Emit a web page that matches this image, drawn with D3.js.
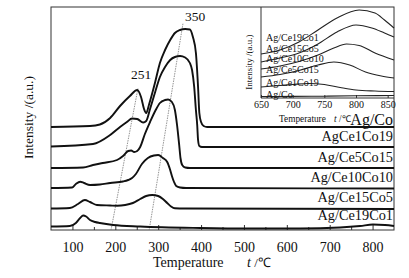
<!DOCTYPE html>
<html><head><meta charset="utf-8">
<script src="https://cdn.jsdelivr.net/npm/d3@7"></script>
<style>
body{margin:0;background:#fff;}
svg{display:block;}
svg text{font-family:"Liberation Serif","Times New Roman",serif !important;fill:#111;}
</style>
</head><body>
<svg id="c" width="409" height="278"></svg>
<script>
// ---------- data ----------
const seriesNames = ["Ag/Co","AgCe1Co19","Ag/Ce5Co15","Ag/Ce10Co10","Ag/Ce15Co5","Ag/Ce19Co1"];
const seriesOffsets = [103, 83, 62, 42, 21.5, 0];
const agCo = [[50,0],[141,1],[164,2.5],[188,9],[211,21],[234,31],[251,37],[260,30],[267,18],[272,14],[279,23],[293,45],[304,64],[316,77],[328,87],[339,94],[351,97],[363,98],[374,97.5],[381,90],[388,74],[393,40],[396,14],[400,5],[406,1],[414,0],[850,0]];
const ce1co19 = [[50,0.5],[148,3],[188,12],[211,20],[227,25],[239,28.5],[251,28],[265,24.5],[272,26],[281,38],[293,55],[304,70],[316,80],[328,87],[339,90],[351,91],[363,89.5],[374,84],[379,77],[384,60],[388,37],[391,22],[393,7],[396,1],[402,0],[850,0]];
const ce5co15 = [[50,0],[125,0.5],[148,3],[171,5],[204,8],[218,12],[230,17],[237,17.5],[244,16],[251,17],[258,21],[269,34],[281,46],[293,57],[304,65],[316,68],[323,68.5],[332,66],[339,58],[344,43],[349,23],[352,10],[356,3],[363,0.5],[374,0],[850,0]];
const ce10co10 = [[50,0],[99,0.5],[108,4],[118,6.3],[127,5],[141,3],[164,3.5],[188,5],[218,6.5],[230,8],[239,10],[248,14],[262,24],[276,30],[290,32.5],[300,33],[311,30],[321,26],[328,18],[332,12],[337,6],[342,2],[351,0.5],[365,0],[850,-0.5]];
const ce15co5 = [[50,0],[94,0.5],[113,4.5],[129,8.5],[141,6.5],[157,3.5],[188,3],[204,2.8],[223,3.5],[241,5.5],[258,9.5],[272,12.5],[286,13.5],[300,12.5],[311,9.5],[321,5.5],[330,2],[339,0.2],[363,0],[850,-0.5]];
const ce19co1 = [[50,3.5],[94,4],[108,7],[118,12],[125,14.5],[132,13.5],[141,10],[153,8],[164,7],[195,5],[258,3.5],[398,2],[514,1.5],[631,1.5],[724,2.5],[771,4],[801,5.5],[829,5],[850,4]];
const mainSeries = [agCo, ce1co19, ce5co15, ce10co10, ce15co5, ce19co1];

const xMajorTicks = [100,200,300,400,500,600,700,800];
const xMinorTicks = [150,250,350,450,550,650,750];
const guide251 = [[190,0],[253,142]];
const guide350 = [[279,0],[358,207]];
const peakLabels = ["251","350"];

const insetNames = ["Ag/Ce19Co1","Ag/Ce15Co5","Ag/Ce10Co10","Ag/Ce5Co15","Ag/Ce1Co19","Ag/Co"];
const insetCe19 = [[650,44],[680,48],[710,56],[740,68],[770,80],[805,88],[830,85],[845,78],[860,70]];
const insetCe15 = [[650,36],[680,40],[710,45],[740,54],[770,66],[800,73],[825,70],[845,65],[860,61]];
const insetCe10 = [[650,29],[680,32],[710,36.5],[740,43],[765,50],[785,54],[805,52.5],[830,45],[860,38]];
const insetCe5  = [[650,21],[680,23.5],[710,27.5],[740,33],[765,36],[790,33],[815,26],[840,22],[860,20]];
const insetCe1  = [[650,11],[680,12.5],[700,13.5],[725,14.5],[750,13.5],[775,10.5],[800,8],[830,7],[860,6.5]];
const insetAgCo = [[650,1.5],[700,1.6],[750,1.8],[800,2.2],[860,2.5]];
const insetSeries = [insetCe19, insetCe15, insetCe10, insetCe5, insetCe1, insetAgCo];
const insetTicks = [650,700,750,800,850];

// ---------- layout ----------
const svg = d3.select("#c");
const L = 51, R = 394, T = 7, B = 230;
const x = d3.scaleLinear().domain([50, 850]).range([L, R]);
const y = d3.scaleLinear().domain([0, 223]).range([B, T]);
const ink = "#111";
const serif = '"Liberation Serif","Times New Roman",serif';

// frame
svg.append("rect").attr("x", L).attr("y", T).attr("width", R - L).attr("height", B - T)
  .attr("fill", "none").attr("stroke", "#333").attr("stroke-width", 1);

// x axis ticks (inward)
svg.append("g").attr("transform", `translate(0,${B})`)
  .call(d3.axisBottom(x).tickValues(xMajorTicks).tickSize(-5).tickPadding(12).tickFormat(d3.format("d")))
  .call(g => g.attr("font-family", null).attr("font-size", null))
  .call(g => g.select(".domain").remove())
  .call(g => g.selectAll("line").attr("stroke", "#333"))
  .call(g => g.selectAll("text").style("font-size", "14px").style("font-family", serif).attr("fill", ink));
svg.append("g").attr("transform", `translate(0,${B})`)
  .call(d3.axisBottom(x).tickValues(xMinorTicks).tickSize(-3).tickFormat(""))
  .call(g => g.select(".domain").remove())
  .call(g => g.selectAll("line").attr("stroke", "#333"));

// axis titles
const xt = svg.append("text").attr("y", 266.5).attr("font-size", "14px");
xt.append("tspan").attr("x", 153).text("Temperature");
xt.append("tspan").attr("x", 247).attr("font-style", "italic").text("t");
xt.append("tspan").attr("font-size", "13px").text(" /\u2103");
svg.append("text").attr("transform", "translate(33,117.5) rotate(-90)")
  .attr("text-anchor", "middle").attr("font-size", "13.5px").text("Intensity /(a.u.)");

// guide lines
const gline = d3.line().x(d => x(d[0])).y(d => y(d[1]));
[guide251, guide350].forEach(gd => {
  svg.append("path").attr("d", gline(gd)).attr("fill", "none")
    .attr("stroke", "#777").attr("stroke-width", 0.8).attr("stroke-dasharray", "1.5,1");
});
svg.append("text").attr("x", x(guide251[1][0]) + 3).attr("y", y(guide251[1][1]) - 9.5)
  .attr("text-anchor", "middle").attr("font-size", "13.5px").text(peakLabels[0]);
svg.append("text").attr("x", x(guide350[1][0]) + 12).attr("y", y(guide350[1][1]) - 2)
  .attr("text-anchor", "middle").attr("font-size", "13.5px").text(peakLabels[1]);

// main curves
const line = d3.line().curve(d3.curveMonotoneX);
mainSeries.forEach((s, i) => {
  const off = seriesOffsets[i];
  svg.append("path")
    .attr("d", line(s.map(d => [x(d[0]), y(d[1] + off)])))
    .attr("fill", "none").attr("stroke", ink).attr("stroke-width", 1.9)
    .attr("stroke-linejoin", "round");
});

// series labels
const labelDy = [-2, -6.5, -6.3, -5.7, -6.2, -10];
const labelSize = [16, 14.3, 14.3, 14.3, 14.3, 14.3];
seriesNames.forEach((n, i) => {
  svg.append("text").attr("x", 393).attr("y", y(seriesOffsets[i]) + labelDy[i])
    .attr("text-anchor", "end").attr("font-size", labelSize[i] + "px").text(n);
});

// ---------- inset ----------
const iL = 261, iR = 394, iT = 7, iB = 98;
const xi = d3.scaleLinear().domain([650, 860]).range([iL, iR]);
const yi = d3.scaleLinear().domain([0, 91]).range([iB, iT]);
svg.append("line").attr("x1", iL).attr("x2", iL).attr("y1", iT).attr("y2", iB).attr("stroke", "#333");
svg.append("line").attr("x1", iL).attr("x2", iR).attr("y1", iB).attr("y2", iB).attr("stroke", "#333");
svg.append("g").attr("transform", `translate(0,${iB})`)
  .call(d3.axisBottom(xi).tickValues(insetTicks).tickSize(-3).tickPadding(3))
  .call(g => g.attr("font-family", null).attr("font-size", null))
  .call(g => g.select(".domain").remove())
  .call(g => g.selectAll("line").attr("stroke", "#333"))
  .call(g => g.selectAll("text").style("font-size", "10px").style("font-family", serif).attr("fill", ink));

insetSeries.forEach(s => {
  svg.append("path").attr("d", line(s.map(d => [xi(d[0]), yi(d[1])])))
    .attr("fill", "none").attr("stroke", "#222").attr("stroke-width", 1.1);
});
const insetLabelY = [40.5, 51.5, 61.5, 73, 85.5, 97.5];
insetNames.forEach((n, i) => {
  svg.append("text").attr("x", 266).attr("y", insetLabelY[i]).attr("font-size", "10px").text(n);
});
const it = svg.append("text").attr("y", 121.5).attr("font-size", "9.3px");
it.append("tspan").attr("x", 279).text("Temperature");
it.append("tspan").attr("x", 334).attr("font-style", "italic").text("t");
it.append("tspan").text(" /\u2103");
svg.append("text").attr("transform", "translate(252,62) rotate(-90)")
  .attr("text-anchor", "middle").attr("font-size", "9px").text("Intensity /(a.u.)");
</script>
</body></html>
